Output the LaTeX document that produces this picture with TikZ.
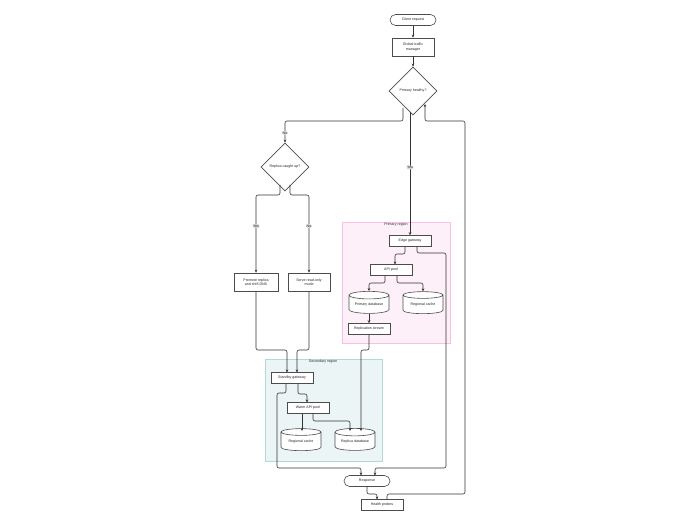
\documentclass[tikz,border=0pt]{standalone}
\usepackage{fontspec}
\setmainfont{Liberation Sans}
\usetikzlibrary{shapes.geometric,arrows.meta}
\begin{document}
\begin{tikzpicture}[x=1pt,y=-1pt,
  every node/.style={font=\fontsize{3.6}{4.3}\selectfont,text=black!85},
  box/.style={draw=black!70,line width=0.6pt,fill=white,minimum width=42pt,minimum height=11pt,align=center,inner sep=1pt},
  tall/.style={box,minimum height=18pt},
  term/.style={box,rounded corners=5.5pt,minimum width=46pt},
  dia/.style={draw=black!70,line width=0.6pt,fill=white,diamond,minimum width=48pt,minimum height=48pt,inner sep=0pt,align=center},
  db/.style={draw=black!70,line width=0.6pt,fill=white,cylinder,shape border rotate=90,aspect=0.25,minimum width=40pt,minimum height=22pt,inner sep=1pt},
  lab/.style={fill=black!15,inner sep=0.6pt},
  e/.style={draw=black!80,line width=0.6pt,rounded corners=2pt,-{Stealth[length=3pt,width=2.6pt]}}]
\useasboundingbox (0,0) rectangle (700,526);
\fill[fill=magenta!6,draw=magenta!25,line width=0.5pt] (342,222) rectangle (450,343);
\node at (396,225) {Primary region};
\fill[fill=teal!8,draw=teal!30,line width=0.5pt] (265,359) rectangle (382,461);
\node at (323,362) {Secondary region};

\node[term] (cr) at (413,20) {Client request};
\node[tall] (gtm) at (413,47) {Global traffic\\manager};
\node[dia] (ph) at (413,91) {Primary healthy?};
\node[dia] (rc) at (285,167) {Replica caught up?};
\node[tall,minimum width=44pt] (pr) at (256,282) {Promote replica\\and shift DNS};
\node[tall] (sr) at (309,282) {Serve read-only\\mode};
\node[box] (eg) at (410,241) {Edge gateway};
\node[box] (api) at (391,270) {API pool};
\node[db] (pdb) at (369,305) {Primary database};
\node[db] (rch) at (423,305) {Regional cache};
\node[box] (rs) at (369,329) {Replication stream};
\node[box] (sg) at (292,378) {Standby gateway};
\node[box] (wap) at (308,408) {Warm API pool};
\node[db] (rc2) at (301,442) {Regional cache};
\node[db] (rdb) at (355,442) {Replica database};
\node[term] (resp) at (367,481) {Response};
\node[box] (hp) at (382,505) {Health probes};
\coordinate (hpin) at (425,104);

\draw[e] (cr) -- (gtm);
\draw[e] (gtm) -- (ph);
\draw[e] (403,108) -- (403,121) -- (285,121) -- (rc.north) node[lab,pos=0.55] {No};
\draw[e] (410,112) -- (eg.north) node[lab,pos=0.45] {Yes};
\draw[e] (hp.north -| 387,0) -- (387,494) -- (465,494) -- (465,121) -- (425,121) -- (hpin);
\draw[e] (280,185) -- (280,195) -- (256,195) -- (pr.north) node[lab,pos=0.4] {Yes};
\draw[e] (290,185) -- (290,195) -- (309,195) -- (sr.north) node[lab,pos=0.4] {No};
\draw[e] (pr.south) -- (256,350) -- (287,350) -- (287,372.5);
\draw[e] (sr.south) -- (309,350) -- (297,350) -- (297,372.5);
\draw[e] (405,246.5) -- (405,254) -- (395,254) -- (395,264.5);
\draw[e] (417,246.5) -- (417,253) -- (446,253) -- (446,468) -- (375,468) -- (375,475.5);
\draw[e] (385,275.5) -- (385,283) -- (369,283) -- (pdb.north);
\draw[e] (397,275.5) -- (397,283) -- (423,283) -- (rch.north);
\draw[e] (pdb.south) -- (rs.north);
\draw[e] (rs.south) -- (369,350) -- (361,350) -- (361,431);
\draw[e] (298,383.5) -- (298,394) -- (307,394) -- (307,402.5);
\draw[e] (286,383.5) -- (286,393) -- (277,393) -- (277,468) -- (361,468) -- (361,475.5);
\draw[e] (302,413.5) -- (302,431);
\draw[e] (313,413.5) -- (313,421) -- (350,421) -- (350,431);
\draw[e] (367,486.5) -- (367,494) -- (377,494) -- (377,499.5);
\end{tikzpicture}
\end{document}
